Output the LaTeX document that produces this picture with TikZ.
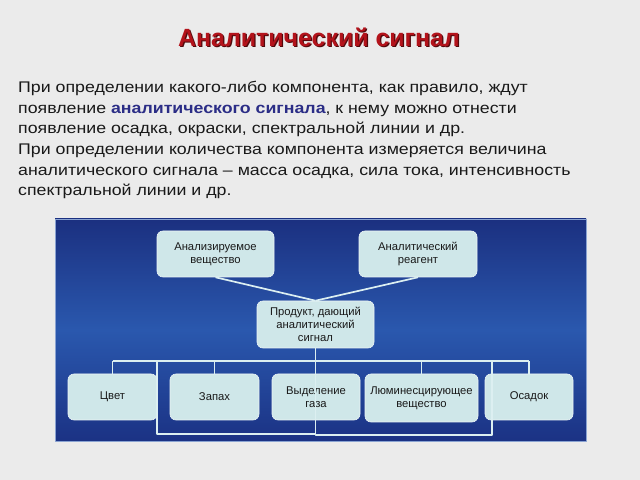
\documentclass[tikz,border=0pt]{standalone}
\usepackage{fontspec}
\setmainfont{Liberation Sans}
\newfontfamily\bodyfont[FakeStretch=1.15]{Liberation Sans}
\definecolor{pagebg}{HTML}{EBEBEB}
\definecolor{titlered}{HTML}{B3131B}
\definecolor{signalblue}{HTML}{2B2D86}
\definecolor{panelA}{HTML}{1B3080}
\definecolor{panelB}{HTML}{2A58AE}
\definecolor{panelC}{HTML}{1B3284}
\definecolor{boxfill}{HTML}{CFE7E9}
\definecolor{linkcol}{HTML}{DCEFF1}
\begin{document}
\begin{tikzpicture}[line join=bevel,
    block/.style={draw=white!60!boxfill,fill=boxfill,rounded corners=6bp,line width=0.6bp,
      minimum height=46bp,align=center,inner sep=2bp,text=black!90,
      font=\fontsize{11.3}{13}\selectfont},
    link/.style={draw=linkcol,line width=1.1bp},
    feed/.style={draw=linkcol,line width=1.7bp}]
    \useasboundingbox [fill=pagebg] (0bp,0bp) rectangle (640bp,480bp);
    %%
    \node (titleshadow) at (320.2bp,441.8bp) [text=black!55!titlered,font=\fontsize{25}{30}\bfseries\selectfont] {Аналитический сигнал};
    \node (title) at (319bp,443bp) [text=titlered,font=\fontsize{25}{30}\bfseries\selectfont] {Аналитический сигнал};
    \node (body) at (18bp,399bp) [anchor=north west,align=left,inner sep=0pt,text=black!90,
      font=\bodyfont\fontsize{15.5}{20.7}\selectfont] {При определении какого-либо компонента, как правило, ждут\\
      появление {\bfseries\color{signalblue}аналитического сигнала}, к нему можно отнести\\
      появление осадка, окраски, спектральной линии и др.\\
      При определении количества компонента измеряется величина\\
      аналитического сигнала – масса осадка, сила тока, интенсивность\\
      спектральной линии и др.};
    %%
    \node (panel) at (320.5bp,150bp) [minimum width=531bp,minimum height=222bp,inner sep=0pt,
      draw=panelB!55!white,line width=0.5bp,top color=panelA,bottom color=panelC,middle color=panelB] {};
    \node (ana) at (215.5bp,226bp) [block,minimum width=117bp] {Анализируемое\\вещество};
    \node (rea) at (418bp,226bp) [block,minimum width=118bp] {Аналитический\\реагент};
    \node (prod) at (315.5bp,155.5bp) [block,minimum width=117bp,minimum height=47bp] {Продукт, дающий\\аналитический\\сигнал};
    \node (cvet) at (112.5bp,83bp) [block,minimum width=89bp] {Цвет};
    \node (zapah) at (214.5bp,83bp) [block,minimum width=89bp] {Запах};
    \node (gaz) at (316bp,83bp) [block,minimum width=88bp] {Выделение\\газа};
    \node (lum) at (421.5bp,82bp) [block,minimum width=113bp,minimum height=48bp] {Люминесцирующее\\вещество};
    \node (osadok) at (529bp,83bp) [block,minimum width=88bp] {Осадок};
    %
    \draw [feed] (ana.south) -- (prod.north);
    \draw [feed] (rea.south) -- (prod.north);
    %
    \coordinate (busW) at (112.5bp,119bp);
    \coordinate (busE) at (529bp,119bp);
    \coordinate (loopA) at (157bp,119bp);
    \coordinate (loopB) at (157bp,46bp);
    \coordinate (loopC) at (492bp,45bp);
    \draw [link] (busW) -- (busE);
    \foreach \b in {cvet,zapah,lum,osadok}
      \draw [link] (\b.north) -- (\b.north |- busW);
    \draw [link] (loopA) -- (loopB) -- (loopB -| prod.south);
    \draw [link] (prod.south) -- (prod.south |- loopC) -- (loopC) -- (loopC |- busE);
    %
\end{tikzpicture}
\end{document}
